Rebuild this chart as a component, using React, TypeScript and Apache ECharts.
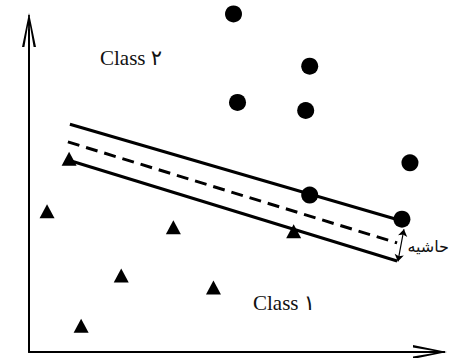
import React, { useEffect, useRef } from "react";
import * as echarts from "echarts";

// Data (x: 0..100, y: 0..80 in chart units)
const class2Points = [[51, 84], [70, 71], [52, 62], [69, 60], [95, 47], [70, 39], [93, 33]];
const class1Points = [[10, 48], [4.5, 35], [36, 31], [23, 19], [46, 16], [13, 6.5], [66, 30]];
const upperMargin = [[10.2, 56.6], [93.3, 32.5]];
const hyperplane = [[9.7, 52.2], [91.8, 27.1]];
const lowerMargin = [[9.7, 47.7], [91.8, 22.6]];
const marginArrow = [[93.5, 30.5], [92, 22.5]];
const labelClass2 = "Class ۲";
const labelClass1 = "Class ۱";
const labelMargin = "حاشیه";

const arrowPath =
  "path://M7,0 L14,34 L11.6,34 L7,7 L2.4,34 L0,34 Z M6.1,2 L7.9,2 L7.9,34 L6.1,34 Z";

export default function App() {
  const ref = useRef<HTMLDivElement>(null);
  useEffect(() => {
    if (!ref.current) return;
    const chart = echarts.init(ref.current, null, { renderer: "svg" });
    const axisCommon = {
      type: "value" as const,
      axisLine: {
        show: true,
        symbol: ["none", arrowPath],
        symbolSize: [14, 34],
        lineStyle: { color: "#000", width: 2 },
      },
      axisTick: { show: false },
      axisLabel: { show: false },
      splitLine: { show: false },
    };
    chart.setOption({
      animation: false,
      backgroundColor: "#fff",
      grid: { left: 29, right: 20, top: 30, bottom: 6 },
      xAxis: { ...axisCommon, min: 0, max: 100 },
      yAxis: { ...axisCommon, min: 0, max: 80 },
      graphic: [
        {
          type: "text",
          x: 100,
          y: 58,
          style: {
            text: labelClass2,
            font: '21px "Liberation Serif", "DejaVu Sans", serif',
            fill: "#111",
            align: "left",
            verticalAlign: "middle",
          },
        },
        {
          type: "text",
          x: 253,
          y: 303,
          style: {
            text: labelClass1,
            font: '21px "Liberation Serif", "DejaVu Sans", serif',
            fill: "#111",
            align: "left",
            verticalAlign: "middle",
          },
        },
        {
          type: "text",
          x: 449,
          y: 246,
          style: {
            text: labelMargin,
            font: '16px "DejaVu Serif", "DejaVu Sans", serif',
            fill: "#111",
            align: "right",
            verticalAlign: "middle",
          },
        },
      ],
      series: [
        {
          type: "line",
          data: upperMargin,
          showSymbol: false,
          lineStyle: { color: "#000", width: 3 },
          z: 2,
        },
        {
          type: "line",
          data: hyperplane,
          showSymbol: false,
          lineStyle: { color: "#000", width: 3, type: [12, 7] },
          z: 2,
        },
        {
          type: "line",
          data: lowerMargin,
          showSymbol: false,
          lineStyle: { color: "#000", width: 3 },
          z: 2,
        },
        {
          type: "lines",
          coordinateSystem: "cartesian2d",
          data: [{ coords: marginArrow }],
          symbol: ["arrow", "arrow"],
          symbolSize: 7,
          lineStyle: { color: "#000", width: 1.2, opacity: 1, curveness: 0 },
          z: 3,
        },
        {
          type: "scatter",
          data: class2Points,
          symbol: "circle",
          symbolSize: 17,
          itemStyle: { color: "#000", opacity: 1 },
          clip: false,
          z: 4,
        },
        {
          type: "scatter",
          data: class1Points,
          symbol: "triangle",
          symbolSize: [15, 14],
          itemStyle: { color: "#000", opacity: 1 },
          clip: false,
          z: 4,
        },
      ],
    });
    return () => chart.dispose();
  }, []);
  return (
    <div
      ref={ref}
      style={{ position: "fixed", left: 0, top: 0, width: 450, height: 358, background: "#fff" }}
    />
  );
}
